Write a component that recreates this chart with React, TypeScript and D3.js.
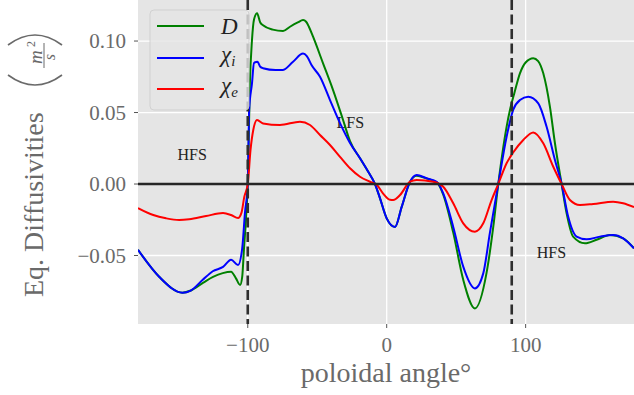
import React from "react";
import * as d3 from "d3";

const dAngles = [-179, -163.6, -147, -141, -132, -125, -118, -112, -108.5, -105.5, -104, -102.7, -101, -100, -98.5, -97, -95.5, -93.3, -91, -89, -82, -74.6, -69.6, -64, -60.2, -58, -56, -53, -45.8, -38.6, -31.4, -26.4, -19.2, -13.3, -8.4, -4.8, 0, 6, 10.8, 16.8, 21.6, 28.8, 36, 40.7, 47.9, 55.1, 63.5, 71.9, 76.7, 80.3, 86.3, 89, 92, 95.9, 100, 105.5, 109, 112.7, 117.5, 121.1, 125.9, 129.5, 134.2, 142.7, 151.1, 160.6, 170.2, 178];
const dValues = [-0.046, -0.065, -0.076, -0.0745, -0.069, -0.065, -0.0623, -0.0613, -0.066, -0.0706, -0.065, -0.045, -0.02, 0, 0.07, 0.1, 0.115, 0.1194, 0.113, 0.111, 0.108, 0.107, 0.11, 0.113, 0.1147, 0.1135, 0.11, 0.103, 0.0844, 0.0657, 0.0448, 0.03, 0.018, 0.0086, 0, -0.01, -0.024, -0.03, -0.016, 0.0016, 0.0058, 0.0038, 0.0012, -0.0075, -0.034, -0.067, -0.087, -0.062, -0.03, 0, 0.04, 0.053, 0.064, 0.0774, 0.085, 0.088, 0.086, 0.0774, 0.054, 0.0285, 0, -0.0205, -0.0368, -0.0415, -0.039, -0.0357, -0.038, -0.045];

const chiIAngles = [-179, -163.6, -147, -141, -132.4, -125.2, -117.8, -112, -107, -104, -102, -100, -99, -97, -95.5, -93, -91, -89, -80, -75, -67.4, -60.2, -57.5, -54, -48, -40.8, -33.6, -26.4, -19.2, -13.3, -8.4, -4.8, 0, 6, 10.8, 16.8, 21.6, 28.8, 36, 40.7, 47.9, 55.1, 63.5, 69.5, 74.3, 80.3, 86.3, 91.1, 95.9, 101.9, 109.1, 115.1, 121.1, 125.9, 130.6, 136.7, 143.9, 153.5, 163, 170.2, 178];
const chiIValues = [-0.046, -0.065, -0.076, -0.0745, -0.067, -0.061, -0.058, -0.053, -0.0567, -0.045, -0.02, 0, 0.052, 0.07, 0.0846, 0.0856, 0.082, 0.081, 0.0797, 0.0797, 0.0855, 0.0912, 0.0895, 0.083, 0.075, 0.0587, 0.0426, 0.0287, 0.018, 0.0086, 0, -0.01, -0.024, -0.03, -0.016, 0.0016, 0.0063, 0.004, 0.0016, -0.0065, -0.03, -0.0578, -0.073, -0.0625, -0.034, 0, 0.033, 0.052, 0.0587, 0.061, 0.0564, 0.04, 0.0168, 0, -0.0228, -0.0368, -0.0387, -0.0368, -0.0357, -0.038, -0.045];

const chiEAngles = [-179, -168, -158.8, -149.4, -142.2, -130, -117.8, -112, -107, -104.5, -102.5, -100, -98, -96, -93.3, -89, -76.8, -62.4, -55.2, -48, -40.8, -33.6, -26.4, -19.2, -12, -7, -2.7, 2.4, 4.7, 9.6, 16.8, 21.6, 33.5, 40.7, 47.9, 55.1, 63.5, 69.5, 75.5, 80.3, 86.3, 91, 98.3, 105.5, 112.7, 119.9, 125.9, 131.9, 139.1, 148.6, 163, 170.2, 178];
const chiEValues = [-0.0168, -0.0217, -0.024, -0.0252, -0.0247, -0.0224, -0.0203, -0.0217, -0.0238, -0.02, -0.009, 0, 0.024, 0.038, 0.0448, 0.0424, 0.0413, 0.0436, 0.0413, 0.0343, 0.0273, 0.019, 0.011, 0.0051, 0.0016, -0.0007, -0.0065, -0.011, -0.0112, -0.0077, 0.0016, 0.0028, 0.0016, -0.0019, -0.0135, -0.0275, -0.0333, -0.0275, -0.0112, 0, 0.0145, 0.022, 0.0308, 0.0361, 0.0285, 0.0121, 0, -0.0112, -0.0147, -0.014, -0.0124, -0.0135, -0.0162];

const xTicks = [-100, 0, 100];
const xTickLabels = ["\u2212100", "0", "100"];
const yTicks = [-0.05, 0, 0.05, 0.1];
const yTickLabels = ["\u22120.05", "0.00", "0.05", "0.10"];
const vLines = [-100, 90];
const regionLabels = [
  { text: "HFS", angle: -140, value: 0.0168 },
  { text: "LFS", angle: -26.2, value: 0.0391 },
  { text: "HFS", angle: 118.6, value: -0.0517 },
];

const W = 634;
const H = 395;
const L = 138, R = 634, T = 0, B = 324;
const SERIF = "'Liberation Serif', 'DejaVu Serif', serif";

export default function App() {
  const x = d3.scaleLinear().domain([-179, 178]).range([L, R]);
  const y = d3.scaleLinear().domain([-0.0979, 0.1287]).range([B, T]);
  const line = d3
    .line<[number, number]>()
    .x((d) => x(d[0]))
    .y((d) => y(d[1]))
    .curve(d3.curveMonotoneX);

  const series = [
    { a: dAngles, v: dValues, color: "#008000" },
    { a: chiIAngles, v: chiIValues, color: "#0000ff" },
    { a: chiEAngles, v: chiEValues, color: "#ff0000" },
  ];

  const legendY = [26, 58, 89];

  return (
    <svg
      width={W}
      height={H}
      style={{ position: "absolute", left: 0, top: 0, background: "#fff" }}
      fontFamily={SERIF}
    >
      <defs>
        <clipPath id="plot">
          <rect x={L} y={T} width={R - L} height={B - T} />
        </clipPath>
      </defs>
      <rect x={L} y={T} width={R - L} height={B - T} fill="#e5e5e5" />
      {xTicks.map((t) => (
        <line key={"gx" + t} x1={x(t)} x2={x(t)} y1={T} y2={B} stroke="#fff" strokeWidth={1.3} />
      ))}
      {yTicks.map((t) => (
        <line key={"gy" + t} x1={L} x2={R} y1={y(t)} y2={y(t)} stroke="#fff" strokeWidth={1.3} />
      ))}
      {xTicks.map((t, i) => (
        <g key={"tx" + t}>
          <line x1={x(t)} x2={x(t)} y1={B} y2={B + 4} stroke="#555" strokeWidth={1} />
          <text x={x(t)} y={352} textAnchor="middle" fontSize={21} fill="#6a6a6a">
            {xTickLabels[i]}
          </text>
        </g>
      ))}
      {yTicks.map((t, i) => (
        <g key={"ty" + t}>
          <line x1={L - 4} x2={L} y1={y(t)} y2={y(t)} stroke="#555" strokeWidth={1} />
          <text x={126} y={y(t) + 7} textAnchor="end" fontSize={21} fill="#6a6a6a">
            {yTickLabels[i]}
          </text>
        </g>
      ))}
      {regionLabels.map((r, i) => (
        <text key={"rl" + i} x={x(r.angle)} y={y(r.value)} textAnchor="middle" fontSize={16} fill="#222">
          {r.text}
        </text>
      ))}
      <g clipPath="url(#plot)">
        {series.map((s, i) => (
          <path
            key={"s" + i}
            d={line(s.a.map((a, j) => [a, s.v[j]] as [number, number])) || ""}
            fill="none"
            stroke={s.color}
            strokeWidth={2}
            strokeLinejoin="round"
          />
        ))}
        <line x1={L} x2={R} y1={y(0)} y2={y(0)} stroke="#262626" strokeWidth={2.5} />
        {vLines.map((v) => (
          <line
            key={"v" + v}
            x1={x(v)}
            x2={x(v)}
            y1={T}
            y2={B}
            stroke="#2e2e2e"
            strokeWidth={2.6}
            strokeDasharray="10,4.5"
          />
        ))}
      </g>
      <rect x={150} y={10} width={99} height={100} rx={4} fill="#e5e5e5" fillOpacity={0.8} stroke="#cccccc" strokeOpacity={0.8} />
      {series.map((s, i) => (
        <line key={"lg" + i} x1={157} x2={204} y1={legendY[i]} y2={legendY[i]} stroke={s.color} strokeWidth={2} />
      ))}
      <text x={221} y={34} fontSize={23} fontStyle="italic" fill="#222">D</text>
      <text x={221} y={62} fontSize={23} fontStyle="italic" fill="#222">
        {"\u03c7"}
        <tspan fontSize={15} dy={4}>i</tspan>
      </text>
      <text x={221} y={93} fontSize={23} fontStyle="italic" fill="#222">
        {"\u03c7"}
        <tspan fontSize={15} dy={4}>e</tspan>
      </text>
      <text x={386} y={382} textAnchor="middle" fontSize={28} fill="#6a6a6a">
        poloidal angle°
      </text>
      <g transform="translate(43,297) rotate(-90)" fill="#6a6a6a">
        <text x={0} y={0} fontSize={28}>Eq. Diffusivities</text>
        <path d="M 222 -35 Q 202 -8 222 19" fill="none" stroke="#6a6a6a" strokeWidth={1.6} />
        <path d="M 252 -35 Q 272 -8 252 19" fill="none" stroke="#6a6a6a" strokeWidth={1.6} />
        <text x={240} y={-1} fontSize={19} fontStyle="italic" textAnchor="middle">m</text>
        <text x={250} y={-8} fontSize={12}>2</text>
        <line x1={229} x2={254} y1={1} y2={1} stroke="#6a6a6a" strokeWidth={1} />
        <text x={240} y={12} fontSize={16} fontStyle="italic" textAnchor="middle">s</text>
      </g>
    </svg>
  );
}
